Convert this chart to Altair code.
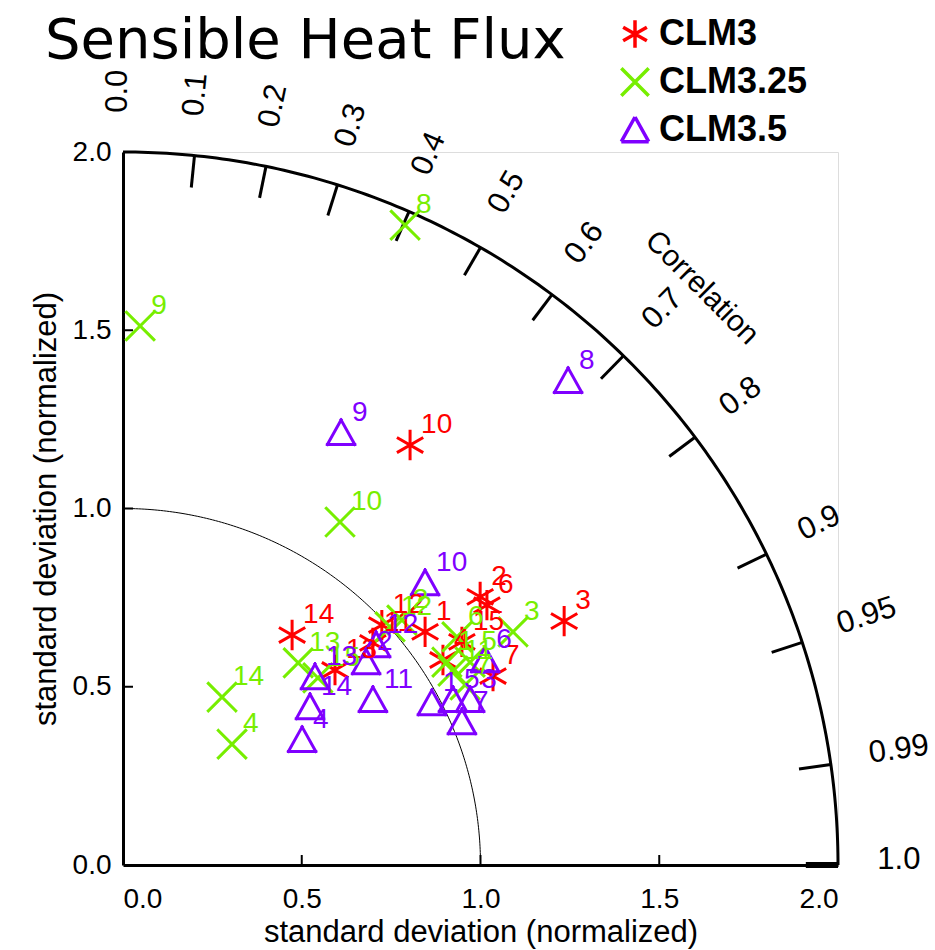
import altair as alt
import pandas as pd
import numpy as np

# ---------------- data (normalized std projected: x = std*corr, y = std*sqrt(1-corr^2)) -------------
series_names = ["CLM3", "CLM3.25", "CLM3.5"]
series_colors = ["#ff0000", "#77ee00", "#7f00ff"]

clm3_site = [1, 2, 3, 4, 6, 7, 10, 11, 12, 13, 14, 15]
clm3_x = [0.845, 0.999, 1.234, 0.895, 1.018, 1.035, 0.803, 0.699, 0.724, 0.593, 0.473, 0.948]
clm3_y = [0.654, 0.752, 0.684, 0.575, 0.729, 0.530, 1.178, 0.623, 0.673, 0.547, 0.645, 0.626]

clm325_site = [1, 2, 3, 4, 5, 6, 7, 8, 9, 10, 11, 12, 13, 14, 15]
clm325_x = [0.906, 0.780, 1.091, 0.305, 0.971, 0.934, 0.957, 0.789, 0.048, 0.607, 0.923, 0.747, 0.490, 0.277, 0.545]
clm325_y = [0.569, 0.687, 0.654, 0.339, 0.569, 0.640, 0.505, 1.795, 1.512, 0.962, 0.544, 0.668, 0.567, 0.471, 0.525]

clm35_site = [1, 2, 3, 4, 5, 6, 7, 8, 9, 10, 11, 12, 13, 14]
clm35_x = [0.864, 0.680, 0.971, 0.501, 0.923, 1.013, 0.948, 1.245, 0.610, 0.845, 0.699, 0.708, 0.537, 0.523]
clm35_y = [0.454, 0.569, 0.463, 0.351, 0.463, 0.575, 0.401, 1.358, 1.212, 0.791, 0.463, 0.617, 0.527, 0.443]

corr_ticks = [0.1, 0.2, 0.3, 0.4, 0.5, 0.6, 0.7, 0.8, 0.9, 0.95, 0.99]
corr_labels = [0.0, 0.1, 0.2, 0.3, 0.4, 0.5, 0.6, 0.7, 0.8, 0.9, 0.95, 0.99, 1.0]
corr_label_text = ["0.0", "0.1", "0.2", "0.3", "0.4", "0.5", "0.6", "0.7", "0.8", "0.9", "0.95", "0.99", "1.0"]
std_ticks = [0.5, 1.0, 1.5]
axis_values = [0.0, 0.5, 1.0, 1.5, 2.0]
title_text = "Sensible Heat Flux"
axis_title = "standard deviation (normalized)"

# ---------------- tables -------------
rows = []
for name, sites, xs, ys in [
    ("CLM3", clm3_site, clm3_x, clm3_y),
    ("CLM3.25", clm325_site, clm325_x, clm325_y),
    ("CLM3.5", clm35_site, clm35_x, clm35_y),
]:
    for s, x, y in zip(sites, xs, ys):
        rows.append({"model": name, "site": str(s), "x": x, "y": y})
pts = pd.DataFrame(rows)

th = np.linspace(0, np.pi / 2, 181)
arc_outer = pd.DataFrame({"x": 2 * np.cos(th), "y": 2 * np.sin(th), "o": np.arange(len(th))})
arc_inner = pd.DataFrame({"x": 1 * np.cos(th), "y": 1 * np.sin(th), "o": np.arange(len(th))})

ct = np.arccos(np.array(corr_ticks))
ticks_corr = pd.DataFrame({
    "x": 1.91 * np.cos(ct), "y": 1.91 * np.sin(ct),
    "x2": 2.0 * np.cos(ct), "y2": 2.0 * np.sin(ct),
})
cl = np.arccos(np.array(corr_labels))
labels_corr = pd.DataFrame({
    "x": 2.11 * np.cos(cl), "y": 2.11 * np.sin(cl),
    "ang": (360 - np.degrees(cl)) % 360,
    "txt": corr_label_text,
})

ticks_x = pd.DataFrame({"x": std_ticks, "y": [0.0] * 3, "y2": [0.028] * 3})
ticks_y = pd.DataFrame({"y": std_ticks, "x": [0.0] * 3, "x2": [0.028] * 3})

FONT = "Liberation Sans"
sc = alt.Scale(domain=[0, 2], nice=False, zero=False)
xaxis = alt.Axis(values=axis_values, format=".1f", ticks=False, grid=False, domainWidth=3,
                 domainColor="black", labelFontSize=28, labelFont=FONT, labelColor="black",
                 labelPadding=20, title=axis_title, titleFontSize=31,
                 titleFont=FONT, titleFontWeight="normal", titleColor="black", titlePadding=4)
yaxis = alt.Axis(values=axis_values, format=".1f", ticks=False, grid=False, domainWidth=3,
                 domainColor="black", labelFontSize=28, labelFont=FONT, labelColor="black",
                 labelPadding=12, title=axis_title, titleFontSize=31,
                 titleFont=FONT, titleFontWeight="normal", titleColor="black", titlePadding=10)

X = lambda f="x": alt.X(f, type="quantitative", scale=sc, axis=xaxis)
Y = lambda f="y": alt.Y(f, type="quantitative", scale=sc, axis=yaxis)

outer = alt.Chart(arc_outer).mark_line(color="black", strokeWidth=3).encode(x=X(), y=Y(), order="o:Q")
inner = alt.Chart(arc_inner).mark_line(color="black", strokeWidth=1).encode(x=X(), y=Y(), order="o:Q")
tcorr = alt.Chart(ticks_corr).mark_rule(color="black", strokeWidth=3).encode(
    x=X(), y=Y(), x2="x2:Q", y2="y2:Q")
tx = alt.Chart(ticks_x).mark_rule(color="black", strokeWidth=2).encode(x=X(), y=Y(), y2="y2:Q")
ty = alt.Chart(ticks_y).mark_rule(color="black", strokeWidth=2).encode(x=X(), y=Y(), x2="x2:Q")
# thick segment at correlation 1.0 along the axis
t1 = alt.Chart(pd.DataFrame({"x": [1.91], "x2": [2.0], "y": [0.0]})).mark_rule(
    color="black", strokeWidth=6).encode(x=X(), x2="x2:Q", y=Y())

lcorr = alt.Chart(labels_corr).mark_text(
    align="left", baseline="middle", dy=-5, fontSize=31, font=FONT, color="black"
).encode(x=X(), y=Y(), text="txt:N", angle=alt.Angle("ang:Q", scale=None))

ctitle = alt.Chart(pd.DataFrame({"x": [2.29 * np.cos(np.pi / 4)], "y": [2.29 * np.sin(np.pi / 4)],
                                 "t": ["Correlation"]})).mark_text(
    align="center", baseline="middle", fontSize=30, font=FONT, color="black", angle=45
).encode(x=X(), y=Y(), text="t:N")

main_title = alt.Chart(pd.DataFrame({"t": [title_text]})).mark_text(
    align="left", baseline="alphabetic", fontSize=56, font="DejaVu Sans", color="black"
).encode(x=alt.value(-78), y=alt.value(-94), text="t:N")

# open sub-paths only, so the symbols never get a filled interior
asterisk = "M0,-1L0,1M-0.866,-0.5L0.866,0.5M-0.866,0.5L0.866,-0.5"
xshape = "M-1,-1L1,1M-1,1L1,-1"
tri = "M-1,0.85L0,-0.95M0,-0.95L1,0.85M1,0.85L-1,0.85"

color_sc = alt.Scale(domain=series_names, range=series_colors)
shape_sc = alt.Scale(domain=series_names, range=[asterisk, xshape, tri])
leg = dict(title=None, orient="none", legendX=494, legendY=-136, labelFont=FONT,
           labelFontSize=36, labelFontWeight="bold", labelColor="black", symbolSize=750,
           symbolStrokeWidth=3.5, symbolFillColor="transparent", rowPadding=6,
           labelOffset=6, padding=0)

points = alt.Chart(pts).mark_point(filled=False, strokeWidth=3, size=750, opacity=1,
                                   strokeCap="square").encode(
    x=X(), y=Y(),
    color=alt.Color("model:N", scale=color_sc, legend=alt.Legend(**leg)),
    shape=alt.Shape("model:N", scale=shape_sc, legend=alt.Legend(**leg)),
)
plabels = alt.Chart(pts).mark_text(
    align="left", baseline="alphabetic", dx=11, dy=-12, fontSize=28, font=FONT
).encode(x=X(), y=Y(), text="site:N", fill=alt.Fill("model:N", scale=color_sc, legend=None))

chart = alt.layer(inner, outer, tcorr, t1, tx, ty, lcorr, ctitle, main_title, points, plabels).properties(
    width=715, height=713,
    autosize=alt.AutoSizeParams(type="none"),
    padding={"left": 123, "top": 152, "right": 97, "bottom": 85},
).configure_view(strokeWidth=0).configure(background="white")

chart.save("out.html", embed_options={"renderer": "svg", "actions": False})
